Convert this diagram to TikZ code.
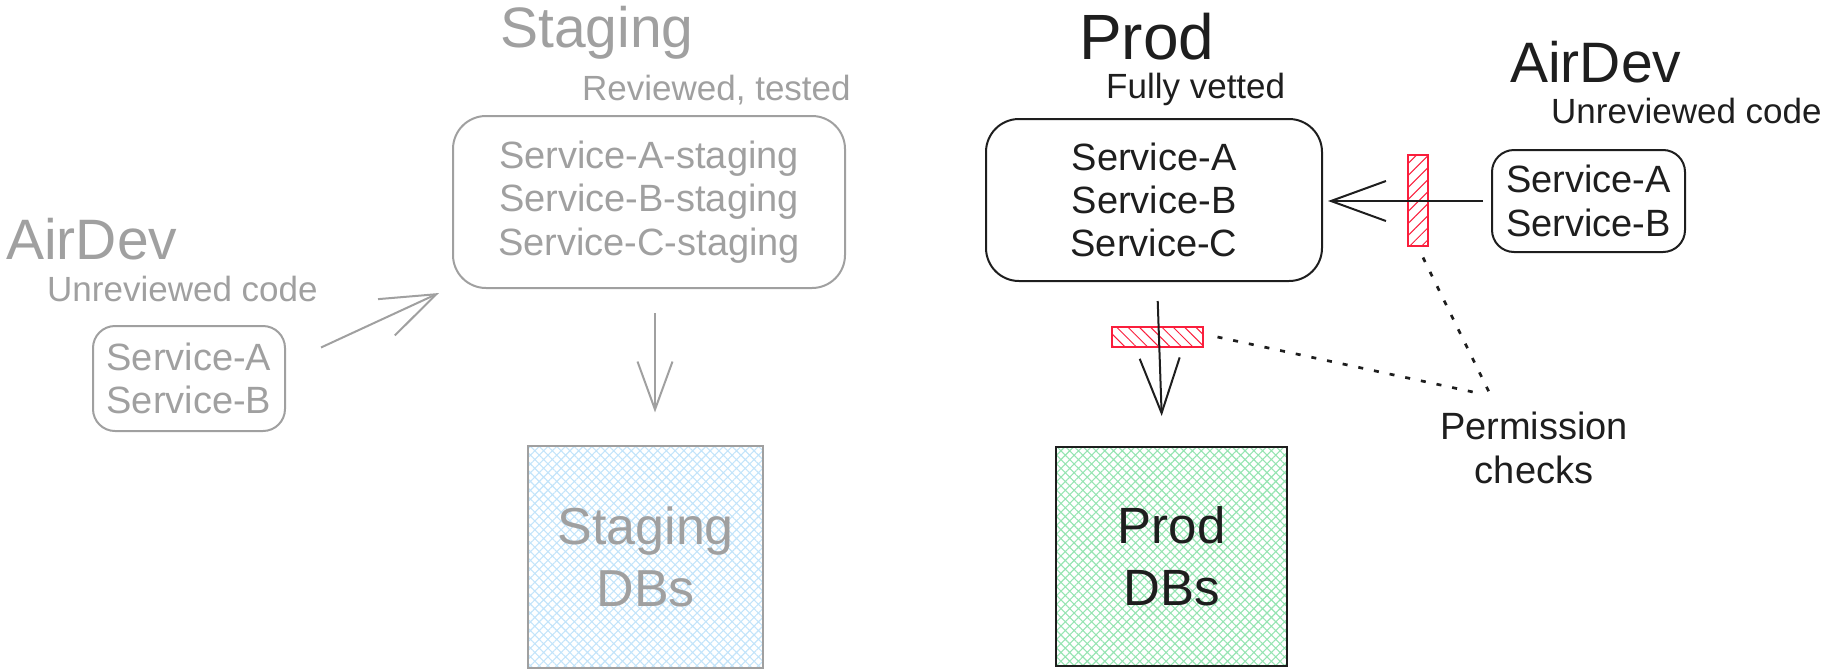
\documentclass[tikz,border=0pt]{standalone}
\usepackage{fontspec}
\setmainfont{Liberation Sans}
\usetikzlibrary{arrows.meta,patterns.meta}

\definecolor{muted}{RGB}{160,160,160}
\definecolor{ink}{RGB}{30,30,30}
\definecolor{gate}{RGB}{250,30,60}
\definecolor{stagefill}{RGB}{195,228,250}
\definecolor{prodfill}{RGB}{150,228,178}

\newcommand\fsz[2]{\fontsize{#1}{#2}\selectfont}

\begin{document}
\begin{tikzpicture}[x=1pt,y=-1pt,
  svcbox/.style={draw, line width=2pt, rounded corners=33pt, inner sep=0pt,
    align=center, font=\fsz{38}{43.4}},
  title/.style={anchor=base west, inner sep=0pt},
  dbbox/.style={draw, line width=2pt, inner sep=0pt, align=center},
  gatebox/.style={draw=gate, line width=2pt, inner sep=0pt, pattern color=gate},
  flow/.style={line width=2pt, -{Straight Barb[length=55pt,width=40pt]}},
  note/.style={line width=2.7pt, dash pattern=on 5pt off 11pt, draw=ink}]

\useasboundingbox (0,0) rectangle (1825,670);

% ---------- staging side ----------
\node[title, text=muted, font=\fsz{57}{60}] (stageT) at (500,47) {Staging};
\node[title, text=muted, font=\fsz{35}{40}] (stageS) at (582,100) {Reviewed, tested};
\node[svcbox, draw=muted, text=muted, minimum width=392pt, minimum height=172pt]
  (stage) at (649,202) {Service-A-staging\\Service-B-staging\\Service-C-staging};

\node[title, text=muted, font=\fsz{57}{60}] (devLT) at (6,259) {AirDev};
\node[title, text=muted, font=\fsz{35}{40}] (devLS) at (47,301) {Unreviewed code};
\node[svcbox, draw=muted, text=muted, minimum width=192pt, minimum height=105pt,
  rounded corners=22pt] (devL) at (189,378.5) {Service-A\\Service-B};

\node[dbbox, draw=muted, text=muted,
  pattern={Hatch[angle=45,distance=6.2pt,line width=1.1pt]}, pattern color=stagefill,
  minimum width=235pt, minimum height=222pt, font=\fsz{52}{61.5}]
  (stagedb) at (645.7,557) {Staging\\DBs};

% ---------- prod side ----------
\node[title, text=ink, font=\fsz{64}{70}] (prodT) at (1079,59) {Prod};
\node[title, text=ink, font=\fsz{35}{40}] (prodS) at (1106,98) {Fully vetted};
\node[svcbox, draw=ink, text=ink, minimum width=336pt, minimum height=162pt]
  (prod) at (1154,200) {Service-A\\Service-B\\Service-C};

\node[title, text=ink, font=\fsz{57}{60}] (devRT) at (1510,82) {AirDev};
\node[title, text=ink, font=\fsz{35}{40}] (devRS) at (1551,123) {Unreviewed code};
\node[svcbox, draw=ink, text=ink, minimum width=193pt, minimum height=102pt,
  rounded corners=22pt] (devR) at (1588.5,201) {Service-A\\Service-B};

\node[dbbox, draw=ink, text=ink,
  pattern={Hatch[angle=45,distance=6.2pt,line width=1.1pt]}, pattern color=prodfill,
  minimum width=231pt, minimum height=219pt, font=\fsz{51}{61.5}]
  (proddb) at (1171.7,556.5) {Prod\\DBs};

% permission gates
\node[gatebox, pattern={Lines[angle=45,distance=8.5pt,line width=1pt]},
  minimum width=20pt, minimum height=91pt] (gateR) at (1418,200.5) {};
\node[gatebox, pattern={Lines[angle=-45,distance=8pt,line width=1pt]},
  minimum width=91pt, minimum height=20pt] (gateD) at (1157.5,337) {};

\node[text=ink, font=\fsz{38}{44}, align=center, inner sep=0pt]
  (perm) at (1534,448.4) {Permission\\checks};
\coordinate (permA) at (1473,392);
\coordinate (permB) at (1489,392);

% ---------- connectors ----------
\draw[flow, draw=muted] ([shift={(35,-31)}]devL.east) -- ([shift={(-13,4)}]stage.south west);
\draw[line width=2pt, draw=muted, -{Straight Barb[length=48pt,width=35pt]}]
  ([shift={(6,24)}]stage.south) -- ([shift={(9.3,-33)}]stagedb.north);

\draw[flow, draw=ink] ([xshift=-8pt]devR.west) -- ([xshift=5pt]devR.west -| prod.east);
\draw[flow, draw=ink] ([shift={(3.7,19)}]prod.south) -- ([shift={(-10,-30)}]proddb.north);

\draw[note] ([shift={(14,0)}]gateD.east) -- (permA);
\draw[note] ([shift={(5,11)}]gateR.south) -- (permB);

\end{tikzpicture}
\end{document}
